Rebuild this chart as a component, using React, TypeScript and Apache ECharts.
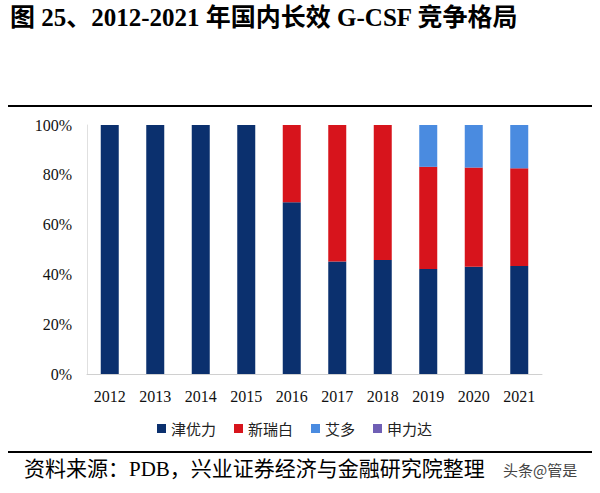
import React, { useEffect, useRef } from "react";
import * as echarts from "echarts";

const years = ["2012", "2013", "2014", "2015", "2016", "2017", "2018", "2019", "2020", "2021"];
const jinYouLi = [100, 100, 100, 100, 69, 45.2, 45.8, 42.2, 43.1, 43.4];
const xinRuiBai = [0, 0, 0, 0, 31, 54.8, 54.2, 41, 39.8, 39.2];
const aiDuo = [0, 0, 0, 0, 0, 0, 0, 16.8, 17.1, 17.4];
const shenLiDa = [0, 0, 0, 0, 0, 0, 0, 0, 0, 0];
const yTicks = [0, 20, 40, 60, 80, 100];

const seriesNames = ["津优力", "新瑞白", "艾多", "申力达"];
const seriesColors = ["#0b306e", "#d7141c", "#4a8be0", "#6f5fb5"];
const seriesData = [jinYouLi, xinRuiBai, aiDuo, shenLiDa];

export default function App() {
  const ref = useRef<HTMLDivElement>(null);
  useEffect(() => {
    if (!ref.current) return;
    const chart = echarts.init(ref.current, null, { renderer: "svg" });
    const serif = "'Liberation Serif', 'Times New Roman', 'Noto Sans CJK SC', serif";
    chart.setOption({
      animation: false,
      backgroundColor: "#ffffff",
      grid: { left: 87, right: 58, top: 125, bottom: 119, containLabel: false },
      legend: {
        data: seriesNames,
        bottom: 52,
        left: 152,
        itemWidth: 9,
        itemHeight: 9,
        itemGap: 18,
        icon: "rect",
        textStyle: { fontSize: 15, color: "#222", fontFamily: "'Noto Sans CJK SC', sans-serif" },
      },
      xAxis: {
        type: "category",
        data: years,
        axisLine: { lineStyle: { color: "#d0d0d0", width: 1 } },
        axisTick: { show: false },
        axisLabel: { fontSize: 16, color: "#111", fontFamily: serif, margin: 14 },
      },
      yAxis: {
        type: "value",
        min: 0,
        max: 100,
        interval: 20,
        axisLine: { show: true, lineStyle: { color: "#e0e0e0" } },
        axisTick: { show: false },
        splitLine: { show: false },
        axisLabel: {
          fontSize: 16,
          color: "#111",
          fontFamily: serif,
          margin: 15,
          formatter: (v: number) => (yTicks.includes(v) ? v + "%" : ""),
        },
      },
      series: seriesData.map((d, i) => ({
        name: seriesNames[i],
        type: "bar",
        stack: "total",
        data: d,
        barWidth: 18,
        itemStyle: { color: seriesColors[i] },
      })),
      graphic: [
        {
          type: "text",
          left: 10,
          top: 5,
          style: {
            text: "图 25、2012-2021 年国内长效 G-CSF 竞争格局",
            fontSize: 25,
            fontWeight: "bold",
            fontFamily: serif,
            fill: "#000",
          },
        },
        {
          type: "line",
          shape: { x1: 8, y1: 106, x2: 592, y2: 106 },
          style: { stroke: "#000", lineWidth: 2 },
        },
        {
          type: "line",
          shape: { x1: 8, y1: 452, x2: 592, y2: 452 },
          style: { stroke: "#000", lineWidth: 2 },
        },
        {
          type: "text",
          left: 24,
          top: 458,
          style: {
            text: "资料来源：PDB，兴业证券经济与金融研究院整理",
            fontSize: 21,
            fontFamily: serif,
            fill: "#000",
          },
        },
        {
          type: "text",
          left: 503,
          top: 462,
          style: {
            text: "头条@管是",
            fontSize: 15,
            fontFamily: "'Noto Sans CJK SC', sans-serif",
            fill: "#444",
          },
        },
      ],
    });
    return () => chart.dispose();
  }, []);
  return (
    <div
      ref={ref}
      style={{ width: 600, height: 493, position: "fixed", left: 0, top: 0 }}
    />
  );
}
